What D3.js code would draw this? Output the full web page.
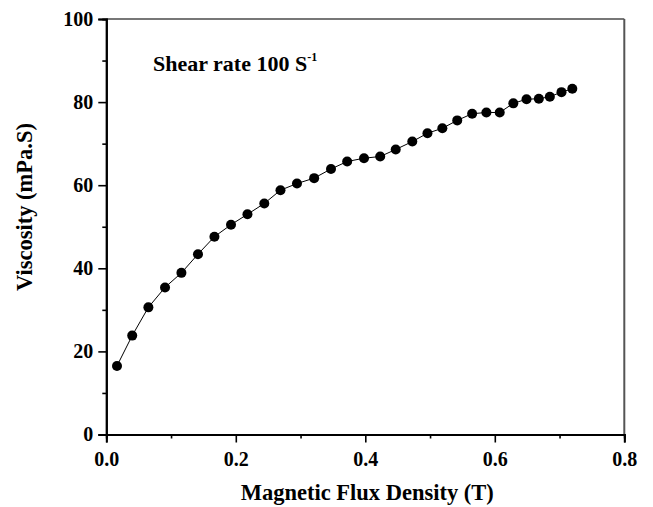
<!DOCTYPE html>
<html><head><meta charset="utf-8">
<script src="https://cdn.jsdelivr.net/npm/d3@7"></script>
<style>body{margin:0;background:#fff}</style>
</head><body><svg id="c" width="653" height="507"></svg>
<script>
const fluxDensity = [0.0165,0.040,0.065,0.0907,0.116,0.1416,0.167,0.1926,0.218,0.244,0.269,0.2945,0.321,0.347,0.372,0.398,0.423,0.447,0.4726,0.496,0.519,0.542,0.565,0.587,0.6076,0.6286,0.649,0.668,0.685,0.703,0.7197];
const viscosity = [16.5,23.8,30.6,35.4,38.9,43.4,47.6,50.5,53.0,55.6,58.8,60.4,61.7,63.9,65.7,66.5,66.9,68.6,70.5,72.5,73.7,75.6,77.2,77.5,77.5,79.7,80.7,80.8,81.3,82.4,83.2];
const xTicks = [0,0.2,0.4,0.6,0.8];
const yTicks = [0,20,40,60,80,100];
const xMinor = [0.1,0.3,0.5,0.7];
const yMinor = [10,30,50,70,90];

const FONT = "'Liberation Serif','Times New Roman',Times,serif";
const svg = d3.select("#c");
const L=106.3,R=624.3,T=19,B=434.5;
const x = d3.scaleLinear().domain([0,0.8]).range([L,R]);
const y = d3.scaleLinear().domain([0,100]).range([B,T]);

svg.append("line").attr("x1",L).attr("x2",R).attr("y1",T).attr("y2",T).attr("stroke","#777").attr("stroke-width",2);
svg.append("line").attr("x1",R).attr("x2",R).attr("y1",T).attr("y2",B).attr("stroke","#555").attr("stroke-width",2);

const xa = svg.append("g").attr("transform",`translate(0,${B})`)
  .call(d3.axisBottom(x).tickValues(xTicks).tickFormat(d3.format(".1f")).tickSize(8).tickPadding(9));
const xm = svg.append("g").attr("transform",`translate(0,${B})`)
  .call(d3.axisBottom(x).tickValues(xMinor).tickFormat("").tickSize(4));
const ya = svg.append("g").attr("transform",`translate(${L},0)`)
  .call(d3.axisLeft(y).tickValues(yTicks).tickSize(8).tickPadding(5));
const ym = svg.append("g").attr("transform",`translate(${L},0)`)
  .call(d3.axisLeft(y).tickValues(yMinor).tickFormat("").tickSize(4));
[xa,xm,ya,ym].forEach(g=>{
  g.attr("font-family",null).attr("font-size",null);
  g.select(".domain").attr("stroke","#000").attr("stroke-width",2);
  g.selectAll(".tick line").attr("stroke","#000").attr("stroke-width",1.6);
  g.selectAll("text").style("font-size","20px").style("fill","#000").style("font-family",FONT).style("font-weight","bold");
});

const pts = fluxDensity.map((d,i)=>[d,viscosity[i]]);
svg.append("path").datum(pts).attr("fill","none").attr("stroke","#000").attr("stroke-width",1)
  .attr("d",d3.line().x(d=>x(d[0])).y(d=>y(d[1])));
svg.append("g").selectAll("circle").data(pts).join("circle")
  .attr("cx",d=>x(d[0])).attr("cy",d=>y(d[1])).attr("r",5).attr("fill","#000");

function txt(){ return svg.append("text").style("font-family",FONT).style("font-weight","bold").style("fill","#000"); }
txt().attr("x",(L+R)/2+2).attr("y",500).attr("text-anchor","middle").style("font-size","22.5px").text("Magnetic Flux Density (T)");
txt().attr("transform","translate(32,207) rotate(-90)").attr("text-anchor","middle").style("font-size","22.5px").text("Viscosity (mPa.S)");
const ann = txt().attr("x",153).attr("y",71).style("font-size","22px");
ann.append("tspan").text("Shear rate 100 S");
ann.append("tspan").attr("dy",-10).style("font-size","12px").text("-1");
</script></body></html>
